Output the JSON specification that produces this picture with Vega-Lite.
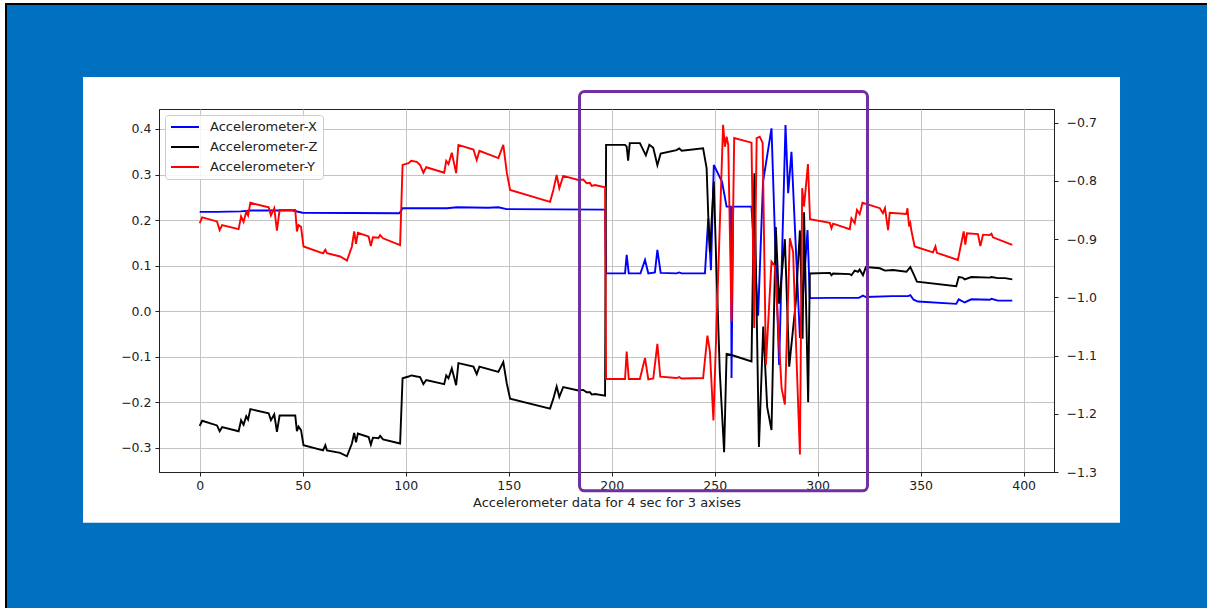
{
  "$schema": "https://vega.github.io/schema/vega-lite/v6.json",
  "autosize": {"type": "none"},
  "padding": {"left": 159, "top": 109, "right": 153, "bottom": 136},
  "width": 895,
  "height": 363,
  "background": "white",
  "datasets": {
    "frame": [
      {"k": "blue", "t": -93.54, "t2": 700, "v": 0.5142, "v2": 0.6722},
      {"k": "blue", "t": -93.54, "t2": 700, "v": -3, "v2": -0.465},
      {"k": "blue", "t": -93.54, "t2": -56.65, "v": -3, "v2": 0.6722},
      {"k": "blue", "t": 446.8, "t2": 700, "v": -3, "v2": 0.6722},
      {"k": "black", "t": -94.51, "t2": 700, "v": 0.6722, "v2": 0.6766},
      {"k": "black", "t": -94.51, "t2": -93.54, "v": -3, "v2": 0.6766}
    ],
    "box": [{"t": 184.4, "t2": 324.2, "v": -0.3947, "v2": 0.4823}],
    "ax": [
      {"t":0,"v":0.218},{"t":8,"v":0.218},{"t":20,"v":0.219},{"t":25,"v":0.221},{"t":45,"v":0.221},{"t":50,"v":0.216},{"t":97,"v":0.215},{"t":98.5,"v":0.226},{"t":120,"v":0.226},{"t":125,"v":0.228},{"t":140,"v":0.227},{"t":145,"v":0.228},{"t":149,"v":0.224},{"t":196.8,"v":0.223},{"t":197.3,"v":0.083},{"t":206.5,"v":0.083},{"t":207.3,"v":0.1235},{"t":208.3,"v":0.083},{"t":214,"v":0.083},{"t":216.2,"v":0.1125},{"t":217.8,"v":0.083},{"t":221,"v":0.085},{"t":222.2,"v":0.1345},{"t":223.8,"v":0.084},{"t":231.5,"v":0.083},{"t":232.8,"v":0.085},{"t":234,"v":0.083},{"t":245.3,"v":0.083},{"t":246.9,"v":0.204},{"t":248.2,"v":0.09},{"t":249.6,"v":0.321},{"t":253.6,"v":0.284},{"t":255.8,"v":0.2295},{"t":257.9,"v":0.2295},{"t":258.2,"v":-0.147},{"t":259,"v":0.2295},{"t":267.9,"v":0.2295},{"t":271.1,"v":-0.01},{"t":273.5,"v":0.284},{"t":277.6,"v":0.4015},{"t":281.3,"v":-0.118},{"t":284.4,"v":0.4088},{"t":285.7,"v":0.259},{"t":287.3,"v":0.35},{"t":291.4,"v":-0.059},{"t":295.1,"v":0.178},{"t":296.2,"v":0.0285},{"t":306,"v":0.029},{"t":320,"v":0.029},{"t":322,"v":0.034},{"t":323.4,"v":0.031},{"t":336,"v":0.033},{"t":343.9,"v":0.033},{"t":345,"v":0.035},{"t":346.6,"v":0.025},{"t":348.7,"v":0.021},{"t":367.3,"v":0.016},{"t":368.5,"v":0.026},{"t":371.4,"v":0.019},{"t":374.6,"v":0.026},{"t":383.5,"v":0.025},{"t":384.4,"v":0.027},{"t":387.5,"v":0.023},{"t":394.5,"v":0.023}
    ],
    "ay": [
      {"t":0,"v":0.193},{"t":1.2,"v":0.206},{"t":8.4,"v":0.197},{"t":9.7,"v":0.178},{"t":10.9,"v":0.189},{"t":18.9,"v":0.18},{"t":20.1,"v":0.208},{"t":21.3,"v":0.196},{"t":22.6,"v":0.218},{"t":23.5,"v":0.21},{"t":24.6,"v":0.238},{"t":33.5,"v":0.228},{"t":34.6,"v":0.21},{"t":36.2,"v":0.226},{"t":37.5,"v":0.177},{"t":38.8,"v":0.222},{"t":46.4,"v":0.222},{"t":47.2,"v":0.175},{"t":48,"v":0.189},{"t":49.2,"v":0.185},{"t":50.4,"v":0.142},{"t":59.9,"v":0.127},{"t":61,"v":0.135},{"t":61.8,"v":0.127},{"t":68.2,"v":0.12},{"t":71.5,"v":0.111},{"t":73.9,"v":0.142},{"t":75,"v":0.175},{"t":75.9,"v":0.148},{"t":76.8,"v":0.172},{"t":82,"v":0.164},{"t":83.1,"v":0.143},{"t":84.1,"v":0.162},{"t":86.8,"v":0.161},{"t":87.6,"v":0.167},{"t":89,"v":0.16},{"t":97.3,"v":0.145},{"t":98.5,"v":0.321},{"t":101.4,"v":0.325},{"t":102.7,"v":0.33},{"t":105.4,"v":0.328},{"t":107,"v":0.321},{"t":108.6,"v":0.304},{"t":110,"v":0.316},{"t":118.7,"v":0.304},{"t":119.7,"v":0.33},{"t":120.8,"v":0.323},{"t":122.4,"v":0.348},{"t":124.5,"v":0.303},{"t":125.6,"v":0.365},{"t":132.9,"v":0.355},{"t":134.5,"v":0.332},{"t":135.8,"v":0.352},{"t":145,"v":0.336},{"t":147.4,"v":0.365},{"t":149.1,"v":0.304},{"t":150.7,"v":0.266},{"t":170.1,"v":0.24},{"t":171.7,"v":0.266},{"t":173.3,"v":0.299},{"t":174.6,"v":0.27},{"t":176.5,"v":0.297},{"t":183.8,"v":0.288},{"t":186.2,"v":0.289},{"t":187.9,"v":0.281},{"t":189.5,"v":0.282},{"t":190.3,"v":0.275},{"t":191.9,"v":0.277},{"t":196.8,"v":0.272},{"t":197.3,"v":-0.149},{"t":206.5,"v":-0.149},{"t":207.3,"v":-0.089},{"t":208.3,"v":-0.149},{"t":213.7,"v":-0.149},{"t":216.2,"v":-0.103},{"t":217.8,"v":-0.15},{"t":220.2,"v":-0.148},{"t":222.2,"v":-0.072},{"t":223.6,"v":-0.144},{"t":231.5,"v":-0.147},{"t":232.8,"v":-0.145},{"t":234,"v":-0.148},{"t":244.4,"v":-0.147},{"t":246.5,"v":-0.054},{"t":247.7,"v":-0.089},{"t":249.4,"v":-0.24},{"t":254.1,"v":0.409},{"t":255,"v":0.361},{"t":255.8,"v":0.383},{"t":256.6,"v":0.365},{"t":258.2,"v":-0.023},{"t":259.5,"v":0.38},{"t":267.9,"v":0.37},{"t":269.2,"v":-0.037},{"t":270.4,"v":0.38},{"t":271.9,"v":0.383},{"t":273.3,"v":0.37},{"t":274.9,"v":-0.118},{"t":277.6,"v":0.109},{"t":279.2,"v":0.1},{"t":282.5,"v":-0.169},{"t":284.1,"v":-0.205},{"t":286.5,"v":0.16},{"t":288.1,"v":0.13},{"t":289.4,"v":-0.059},{"t":291.4,"v":-0.315},{"t":292.5,"v":0.27},{"t":293.4,"v":0.23},{"t":295.3,"v":0.323},{"t":296.3,"v":0.202},{"t":305.9,"v":0.194},{"t":306.7,"v":0.182},{"t":307.5,"v":0.192},{"t":315.6,"v":0.18},{"t":316.4,"v":0.204},{"t":318,"v":0.193},{"t":319.1,"v":0.222},{"t":320.4,"v":0.213},{"t":321.8,"v":0.238},{"t":330.2,"v":0.226},{"t":331.7,"v":0.215},{"t":332.7,"v":0.226},{"t":334.2,"v":0.178},{"t":335,"v":0.216},{"t":343.1,"v":0.2135},{"t":343.6,"v":0.226},{"t":344.4,"v":0.186},{"t":345,"v":0.193},{"t":345.5,"v":0.177},{"t":347.1,"v":0.142},{"t":356,"v":0.129},{"t":357.2,"v":0.142},{"t":357.9,"v":0.128},{"t":368.1,"v":0.1125},{"t":370.9,"v":0.175},{"t":371.7,"v":0.146},{"t":372.5,"v":0.171},{"t":377.8,"v":0.169},{"t":379,"v":0.143},{"t":380.3,"v":0.168},{"t":383.5,"v":0.167},{"t":384.4,"v":0.17},{"t":385.1,"v":0.162},{"t":394.5,"v":0.1455}
    ],
    "az": [
      {"t":0,"v":-1.221},{"t":1.2,"v":-1.212},{"t":8.4,"v":-1.22},{"t":9.7,"v":-1.23},{"t":10.9,"v":-1.223},{"t":18.9,"v":-1.23},{"t":20.1,"v":-1.211},{"t":21.3,"v":-1.219},{"t":22.6,"v":-1.204},{"t":23.5,"v":-1.21},{"t":24.6,"v":-1.192},{"t":33.5,"v":-1.199},{"t":34.6,"v":-1.211},{"t":36.2,"v":-1.201},{"t":37.5,"v":-1.231},{"t":38.8,"v":-1.203},{"t":46.4,"v":-1.203},{"t":47.2,"v":-1.23},{"t":48,"v":-1.222},{"t":49.2,"v":-1.228},{"t":50.4,"v":-1.254},{"t":59.9,"v":-1.263},{"t":61,"v":-1.254},{"t":61.8,"v":-1.263},{"t":68.2,"v":-1.267},{"t":71.5,"v":-1.273},{"t":73.9,"v":-1.251},{"t":75,"v":-1.233},{"t":75.9,"v":-1.249},{"t":76.8,"v":-1.234},{"t":82,"v":-1.24},{"t":83.1,"v":-1.253},{"t":84.1,"v":-1.241},{"t":86.8,"v":-1.242},{"t":87.6,"v":-1.238},{"t":89,"v":-1.244},{"t":97.3,"v":-1.251},{"t":98.5,"v":-1.139},{"t":101.4,"v":-1.136},{"t":102.7,"v":-1.134},{"t":105.4,"v":-1.136},{"t":107,"v":-1.137},{"t":108.6,"v":-1.149},{"t":110,"v":-1.142},{"t":118.7,"v":-1.149},{"t":119.7,"v":-1.134},{"t":120.8,"v":-1.139},{"t":122.4,"v":-1.122},{"t":124.5,"v":-1.151},{"t":125.6,"v":-1.113},{"t":132.9,"v":-1.119},{"t":134.5,"v":-1.132},{"t":135.8,"v":-1.119},{"t":145,"v":-1.128},{"t":147.4,"v":-1.111},{"t":149.1,"v":-1.148},{"t":150.7,"v":-1.174},{"t":170.1,"v":-1.191},{"t":171.7,"v":-1.174},{"t":173.3,"v":-1.153},{"t":174.6,"v":-1.171},{"t":176.5,"v":-1.154},{"t":183.8,"v":-1.16},{"t":186.2,"v":-1.159},{"t":187.9,"v":-1.163},{"t":189.5,"v":-1.163},{"t":190.3,"v":-1.167},{"t":191.9,"v":-1.166},{"t":196.8,"v":-1.169},{"t":197.3,"v":-0.738},{"t":206.5,"v":-0.738},{"t":207.3,"v":-0.741},{"t":208,"v":-0.765},{"t":208.8,"v":-0.735},{"t":213.7,"v":-0.735},{"t":216.6,"v":-0.756},{"t":218.3,"v":-0.738},{"t":220.2,"v":-0.743},{"t":222.2,"v":-0.773},{"t":223.8,"v":-0.753},{"t":231.5,"v":-0.747},{"t":232.8,"v":-0.744},{"t":234,"v":-0.748},{"t":244.4,"v":-0.744},{"t":246.1,"v":-0.778},{"t":246.9,"v":-0.859},{"t":247.7,"v":-0.922},{"t":249.6,"v":-0.801},{"t":250.9,"v":-0.956},{"t":252.5,"v":-1.128},{"t":254.6,"v":-1.266},{"t":255.8,"v":-1.097},{"t":258.2,"v":-1.099},{"t":267.9,"v":-1.11},{"t":269.3,"v":-0.787},{"t":271.5,"v":-1.257},{"t":273.6,"v":-1.05},{"t":275.5,"v":-1.188},{"t":277.6,"v":-1.228},{"t":279.7,"v":-0.879},{"t":281.3,"v":-1.011},{"t":284.1,"v":-0.9},{"t":286.2,"v":-1.119},{"t":289.4,"v":-1.008},{"t":291.4,"v":-0.885},{"t":292.7,"v":-1.071},{"t":293.4,"v":-0.854},{"t":295.4,"v":-1.18},{"t":296.2,"v":-0.959},{"t":306,"v":-0.958},{"t":306.7,"v":-0.962},{"t":307.5,"v":-0.959},{"t":315.6,"v":-0.96},{"t":316.4,"v":-0.962},{"t":318,"v":-0.954},{"t":319.6,"v":-0.956},{"t":320.4,"v":-0.952},{"t":322,"v":-0.962},{"t":323.4,"v":-0.948},{"t":330.2,"v":-0.95},{"t":332.7,"v":-0.954},{"t":336.6,"v":-0.953},{"t":343.1,"v":-0.956},{"t":345,"v":-0.948},{"t":346.6,"v":-0.96},{"t":348.2,"v":-0.973},{"t":367.3,"v":-0.981},{"t":368.5,"v":-0.965},{"t":370.3,"v":-0.966},{"t":371.4,"v":-0.969},{"t":374.6,"v":-0.965},{"t":383.5,"v":-0.966},{"t":384.4,"v":-0.965},{"t":387.5,"v":-0.967},{"t":391,"v":-0.967},{"t":394.5,"v":-0.969}
    ]
  },
  "layer": [
    {
      "data": {"name": "frame"},
      "transform": [{"filter": "datum.k === 'blue'"}],
      "mark": {"type": "rect", "color": "#0070C0", "strokeWidth": 0},
      "encoding": {
        "x": {"field": "t", "type": "quantitative", "scale": {"domain": [-19.75, 414.75], "nice": false, "zero": false}},
        "x2": {"field": "t2"},
        "y": {"field": "v", "type": "quantitative", "scale": {"domain": [-0.3533, 0.4439], "nice": false, "zero": false}, "axis": null},
        "y2": {"field": "v2"}
      }
    },
    {
      "data": {"name": "frame"},
      "transform": [{"filter": "datum.k === 'black'"}],
      "mark": {"type": "rect", "color": "#000000", "strokeWidth": 0},
      "encoding": {
        "x": {"field": "t", "type": "quantitative", "scale": {"domain": [-19.75, 414.75], "nice": false, "zero": false}},
        "x2": {"field": "t2"},
        "y": {"field": "v", "type": "quantitative", "scale": {"domain": [-0.3533, 0.4439], "nice": false, "zero": false}, "axis": null},
        "y2": {"field": "v2"}
      }
    },
    {
      "data": {"name": "ax"},
      "mark": {"type": "line", "strokeWidth": 1.9},
      "encoding": {
        "x": {"field": "t", "type": "quantitative", "scale": {"domain": [-19.75, 414.75], "nice": false, "zero": false},
              "axis": {"values": [0, 50, 100, 150, 200, 250, 300, 350, 400], "format": "d", "grid": true, "title": "Accelerometer data for 4 sec for 3 axises", "labelPadding": 3, "titlePadding": 5}},
        "y": {"field": "v", "type": "quantitative", "scale": {"domain": [-0.3533, 0.4439], "nice": false, "zero": false},
              "axis": {"orient": "left", "values": [-0.3, -0.2, -0.1, 0, 0.1, 0.2, 0.3, 0.4], "format": ".1f", "grid": true, "title": null, "labelPadding": 4}},
        "color": {"datum": "Accelerometer-X", "type": "nominal",
                  "scale": {"domain": ["Accelerometer-X", "Accelerometer-Z", "Accelerometer-Y"], "range": ["#0000ff", "#000000", "#ff0000"]},
                  "legend": {"orient": "top-left", "title": null}}
      }
    },
    {
      "data": {"name": "az"},
      "mark": {"type": "line", "strokeWidth": 1.9},
      "encoding": {
        "x": {"field": "t", "type": "quantitative", "scale": {"domain": [-19.75, 414.75], "nice": false, "zero": false}},
        "y": {"field": "v", "type": "quantitative", "scale": {"domain": [-1.3, -0.6764], "nice": false, "zero": false},
              "axis": {"orient": "right", "values": [-1.3, -1.2, -1.1, -1.0, -0.9, -0.8, -0.7], "format": ".1f", "grid": false, "title": null, "labelPadding": 8}},
        "color": {"datum": "Accelerometer-Z", "type": "nominal"}
      }
    },
    {
      "data": {"name": "ay"},
      "mark": {"type": "line", "strokeWidth": 1.9},
      "encoding": {
        "x": {"field": "t", "type": "quantitative", "scale": {"domain": [-19.75, 414.75], "nice": false, "zero": false}},
        "y": {"field": "v", "type": "quantitative", "scale": {"domain": [-0.3533, 0.4439], "nice": false, "zero": false}, "axis": null},
        "color": {"datum": "Accelerometer-Y", "type": "nominal"}
      }
    },
    {
      "data": {"name": "box"},
      "mark": {"type": "rect", "fill": "white", "fillOpacity": 0, "stroke": "#7030A0", "strokeWidth": 3, "cornerRadius": 5},
      "encoding": {
        "x": {"field": "t", "type": "quantitative", "scale": {"domain": [-19.75, 414.75], "nice": false, "zero": false}},
        "x2": {"field": "t2"},
        "y": {"field": "v", "type": "quantitative", "scale": {"domain": [-0.3533, 0.4439], "nice": false, "zero": false}, "axis": null},
        "y2": {"field": "v2"}
      }
    }
  ],
  "resolve": {"scale": {"y": "independent"}},
  "config": {
    "font": "DejaVu Sans",
    "view": {"stroke": "#222222", "strokeWidth": 1},
    "axis": {
      "domainColor": "#222222", "tickColor": "#222222", "labelColor": "#222222",
      "labelFont": "DejaVu Sans", "labelFontSize": 12.5, "tickSize": 4,
      "gridColor": "#c4c4c4", "gridWidth": 1,
      "titleFont": "DejaVu Sans", "titleFontWeight": "normal", "titleFontSize": 13, "titleColor": "#222222"
    },
    "legend": {
      "offset": 6, "padding": 5, "fillColor": "rgba(255,255,255,0.85)", "strokeColor": "#cccccc", "cornerRadius": 3,
      "symbolType": "stroke", "symbolSize": 784, "symbolStrokeWidth": 2,
      "labelFont": "DejaVu Sans", "labelFontSize": 13, "labelColor": "#222222", "labelOffset": 10,
      "clipHeight": 14, "rowPadding": 6
    }
  }
}
